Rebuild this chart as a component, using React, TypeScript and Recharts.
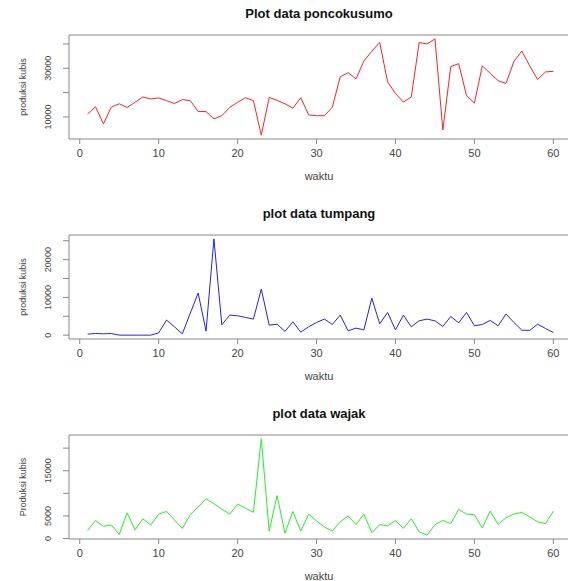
import { Label, LineChart, Line, ReferenceArea, XAxis, YAxis } from "recharts";

const waktu = [
  1, 2, 3, 4, 5, 6, 7, 8, 9, 10, 11, 12, 13, 14, 15, 16, 17, 18, 19, 20,
  21, 22, 23, 24, 25, 26, 27, 28, 29, 30, 31, 32, 33, 34, 35, 36, 37, 38, 39, 40,
  41, 42, 43, 44, 45, 46, 47, 48, 49, 50, 51, 52, 53, 54, 55, 56, 57, 58, 59, 60,
];

const poncokusumo = [
  11250, 14170, 7080, 14000, 15400, 13900, 16000, 18200, 17400, 17800,
  16700, 15500, 17100, 16700, 12200, 12200, 9200, 10500, 13900, 16000,
  17900, 16700, 2500, 18000, 16800, 15400, 13600, 17900, 10800, 10500,
  10500, 14000, 26500, 28200, 25600, 33000, 37000, 40600, 24400, 19600,
  16100, 18200, 40600, 40000, 42100, 4600, 30700, 31900, 18750, 15700,
  31000, 27900, 24900, 23750, 32800, 37100, 31000, 25400, 28500, 28750,
];

const tumpang = [
  270, 440, 350, 440, 0, 0, 0, 0, 0, 600,
  4000, 2200, 350, 5800, 11150, 1060, 25500, 2740, 5300, 5130,
  4700, 4250, 12200, 2650, 2900, 1000, 3540, 800, 2200, 3360,
  4250, 2830, 5300, 1150, 1860, 1400, 9800, 3000, 6000, 1400,
  5300, 2200, 3800, 4250, 3800, 2300, 4950, 3270, 6000, 2480,
  2830, 3900, 2480, 5600, 3360, 1330, 1240, 2900, 1770, 700,
];

const wajak = [
  1800, 3980, 2700, 3000, 900, 5700, 1950, 4350, 3000, 5400,
  6000, 4100, 2250, 5250, 7000, 8800, 7700, 6500, 5400, 7600,
  6700, 5800, 22050, 1650, 9500, 1200, 6000, 1650, 5400, 3900,
  2550, 1650, 3700, 5000, 3080, 5400, 1280, 3080, 2800, 4000,
  2250, 4350, 1500, 750, 3080, 4000, 3300, 6450, 5400, 5250,
  2330, 6080, 3080, 4600, 5400, 5800, 4800, 3700, 3300, 6080,
];

const xTicks = [0, 10, 20, 30, 40, 50, 60];

// R pads each axis range by 4%
function pad(vals: number[]): [number, number] {
  const lo = Math.min(...vals);
  const hi = Math.max(...vals);
  const d = (hi - lo) * 0.04;
  return [lo - d, hi + d];
}

const FONT = "'Liberation Sans', Arial, sans-serif";
const GREY = "#888";
const TXT = "#444";

type PanelProps = {
  title: string;
  ylabel: string;
  values: number[];
  color: string;
  yTicks: number[];
  yLabelled: number[];
};

function Panel({ title, ylabel, values, color, yTicks, yLabelled }: PanelProps) {
  const data = waktu.map((t, i) => ({ t, v: values[i] }));
  const xd = pad(waktu);
  const yd = pad(values);

  const YTick = ({ y, payload }: any) =>
    yLabelled.includes(payload.value) ? (
      <text
        x={48}
        y={y}
        dy="0.35em"
        transform={`rotate(-90 48 ${y})`}
        textAnchor="middle"
        fontSize={9}
        fontFamily={FONT}
        fill={TXT}
      >
        {payload.value}
      </text>
    ) : (
      <g />
    );

  return (
    <LineChart
      width={580}
      height={200}
      data={data}
      margin={{ top: 35, right: 8, bottom: 31, left: 0 }}
      style={{ fontFamily: FONT }}
    >
      <text x={319} y={18} textAnchor="middle" fontSize={13} fontWeight="bold" fill="#111" fontFamily={FONT}>
        {title}
      </text>
      <XAxis
        dataKey="t"
        type="number"
        domain={xd}
        ticks={xTicks}
        interval={0}
        allowDataOverflow
        height={30}
        axisLine={false}
        tickLine={{ stroke: GREY }}
        tickSize={5}
        tickMargin={5}
        tick={{ fontSize: 11, fill: TXT, fontFamily: FONT }}
      >
        <Label
          content={() => (
            <text x={319} y={180} textAnchor="middle" fontSize={11} fill={TXT} fontFamily={FONT}>
              waktu
            </text>
          )}
        />
      </XAxis>
      <YAxis
        type="number"
        domain={yd}
        ticks={yTicks}
        interval={0}
        allowDataOverflow
        width={69}
        axisLine={false}
        tickLine={{ stroke: GREY }}
        tickSize={6}
        tick={YTick}
      >
        <Label
          content={({ viewBox }: any) => {
            const cy = viewBox.y + viewBox.height / 2;
            return (
              <text
                x={23}
                y={cy}
                dy="0.35em"
                transform={`rotate(-90 23 ${cy})`}
                textAnchor="middle"
                fontSize={9}
                fill={TXT}
                fontFamily={FONT}
              >
                {ylabel}
              </text>
            );
          }}
        />
      </YAxis>
      <ReferenceArea
        x1={xd[0]}
        x2={xd[1]}
        y1={yd[0]}
        y2={yd[1]}
        fill="none"
        stroke={GREY}
        strokeWidth={1}
      />
      <Line
        type="linear"
        dataKey="v"
        stroke={color}
        strokeWidth={1}
        dot={false}
        isAnimationActive={false}
      />
    </LineChart>
  );
}

export default function App() {
  return (
    <div
      style={{
        position: "absolute",
        left: 0,
        top: 0,
        width: 568,
        height: 581,
        overflow: "hidden",
        background: "#fff",
      }}
    >
      <Panel
        title="Plot data poncokusumo"
        ylabel="produksi kubis"
        values={poncokusumo}
        color="#ff2020"
        yTicks={[10000, 20000, 30000, 40000]}
        yLabelled={[10000, 30000]}
      />
      <Panel
        title="plot data tumpang"
        ylabel="produksi kubis"
        values={tumpang}
        color="#2020ff"
        yTicks={[0, 5000, 10000, 15000, 20000, 25000]}
        yLabelled={[0, 10000, 20000]}
      />
      <Panel
        title="plot data wajak"
        ylabel="Produksi kubis"
        values={wajak}
        color="#20f020"
        yTicks={[0, 5000, 10000, 15000, 20000]}
        yLabelled={[0, 5000, 15000]}
      />
    </div>
  );
}
